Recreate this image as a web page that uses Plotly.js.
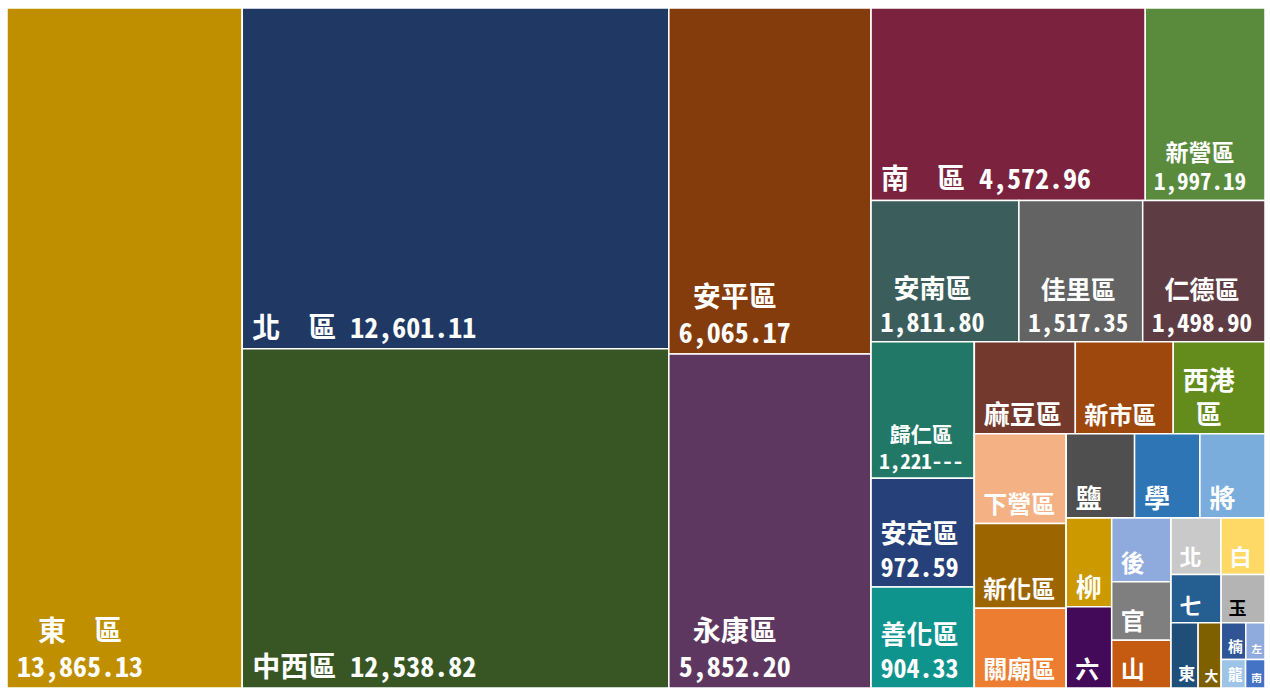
<!DOCTYPE html>
<html>
<head>
<meta charset="utf-8">
<script src="https://cdn.plot.ly/plotly-3.0.1.min.js"></script>
<style>html,body{margin:0;padding:0;background:#fff;}#chart{width:1270px;height:688px;}</style>
</head>
<body>
<div id="chart"></div>
<script>
// ---- data (臺南市各區人口密度, 人/平方公里) ----
const districts = ['東　區','北　區','中西區','安平區','永康區','南　區','新營區','安南區','佳里區','仁德區',
  '歸仁區','安定區','善化區','麻豆區','新市區','西港區','下營區','新化區','關廟區','鹽水區',
  '學甲區','將軍區','柳營區','六甲區','後壁區','官田區','山上區','北門區','白河區','七股區',
  '玉井區','東山區','大內區','楠西區','左鎮區','龍崎區','南化區'];
const density = [13865.13,12601.11,12538.82,6065.17,5852.20,4572.96,1997.19,1811.80,1517.35,1498.90,
  1221.50,972.59,904.33,803,779,730,715,675,635,500,
  478,476,350,320,328,300,246,244,215,210,
  184,153,131,78,61,60,48];
// label text as it appears in each tile
const shownName = ['東　區','北　區','中西區','安平區','永康區','南　區','新營區','安南區','佳里區','仁德區',
  '歸仁區','安定區','善化區','麻豆區','新市區','西港<br>區','下營區','新化區','關廟區','鹽',
  '學','將','柳','六','後','官','山','北','白','七',
  '玉','東','大','楠','左','龍','南'];
const inlineValue = ['北　區','中西區','南　區'];
const stackedValue = ['東　區','安平區','永康區','新營區','安南區','佳里區','仁德區','歸仁區','安定區','善化區'];
const clippedValue = {'歸仁區':'1,221---'};

// ---- style ----
const colors = ['#BF8F00','#203864','#375623','#843C0C','#5E3761','#7B223E','#5A8A3C','#3B5E5C','#636363','#5E3C44',
  '#217867','#26417A','#0F948D','#73392C','#9E480E','#638C1C','#F4B183','#9C6500','#ED7D31','#4F4F4F',
  '#2E75B6','#7AADDC','#CC9900','#440A5A','#8FAADC','#7F7F7F','#C55A11','#C9C9C9','#FFD966','#255E91',
  '#B4B4B4','#1F4E79','#7F6000','#2F5597','#8FAADC','#9DC3E6','#4472C4'];
const labelSize = {'東　區':28,'北　區':28,'中西區':28,'安平區':28,'永康區':28,'南　區':28,
  '新營區':23,'佳里區':25,'仁德區':25,'歸仁區':21,'新市區':24,'下營區':24,'新化區':24,'關廟區':24,
  '六甲區':24,'後壁區':24,'官田區':24,'山上區':24,'北門區':22,'白河區':22,'七股區':22,
  '玉井區':18,'東山區':20,'大內區':18,'楠西區':16,'左鎮區':16,'龍崎區':16,'南化區':16};
const defaultSize = 26;
// grouping of tiles (nested lists = blocks of the treemap)
const blocks = [
  '東　區',
  ['北　區','中西區'],
  ['安平區','永康區'],
  [['南　區','新營區'], ['安南區','佳里區','仁德區'],
    [['歸仁區','安定區','善化區'],
     [['麻豆區','新市區','西港區'],
      [['下營區','新化區','關廟區'],
       [['鹽水區','學甲區','將軍區'],
        [['柳營區','六甲區'], ['後壁區','官田區','山上區'],
         [['北門區','白河區'], ['七股區','玉井區'],
          ['東山區','大內區', [['楠西區','左鎮區'], ['龍崎區','南化區']]]]]]]]]]
];

// ---- helpers: centre the lines of a label on each other (half/full-width monospace) ----
const Q = '\u2005'; // quarter-em space
function emWidth(s){ let w=0; for (const c of s){ w += (c.charCodeAt(0) < 0x2E80) ? 0.5 : 1; } return w; }
function centreLines(t){
  const lines = t.split('<br>');
  const ws = lines.map(emWidth);
  const m = Math.max(...ws);
  return lines.map((l,k)=> Q + Q.repeat(Math.round((m - ws[k]) / 2 / 0.25)) + l).join('<br>');
}

// ---- build treemap arrays ----
const fmt = v => v.toLocaleString('en-US',{minimumFractionDigits:2, maximumFractionDigits:2});
const ids=[], labels=[], parents=[], values=[], texts=[], mcolors=[], tcolors=[], tsizes=[];
let gcount = 0;
function add(node, parentId){
  if (Array.isArray(node)){
    const id = 'grp' + (++gcount);
    ids.push(id); labels.push(id); parents.push(parentId); values.push(0);
    texts.push(''); mcolors.push('rgba(255,255,255,0)'); tcolors.push('#ffffff'); tsizes.push(defaultSize);
    node.forEach(ch => add(ch, id));
  } else {
    const i = districts.indexOf(node);
    ids.push(node); labels.push(node); parents.push(parentId); values.push(density[i]);
    let t = shownName[i];
    const vt = clippedValue[node] || fmt(density[i]);
    if (inlineValue.includes(node)) t = t + ' ' + vt;
    else if (stackedValue.includes(node)) t = t + '<br>' + vt;
    texts.push(centreLines(t));
    mcolors.push(colors[i]);
    tcolors.push(node === '玉井區' ? '#000000' : '#ffffff');
    tsizes.push(labelSize[node] || defaultSize);
  }
}
blocks.forEach(b => add(b, ''));

const trace = {
  type: 'treemap',
  ids: ids, labels: labels, parents: parents, values: values,
  branchvalues: 'remainder',
  sort: false,
  text: texts,
  textinfo: 'text',
  textposition: 'bottom left',
  textfont: {family: '"Noto Sans Mono CJK TC", "Liberation Serif", "Noto Sans CJK TC", serif', size: tsizes, color: tcolors, weight: 'bold'},
  marker: {colors: mcolors, line: {color: '#ffffff', width: 1.5}, pad: {t:0, l:0, r:0, b:0}},
  tiling: {packing: 'slice-dice', pad: 0},
  pathbar: {visible: false},
  hoverinfo: 'skip'
};
const layout = {
  width: 1270, height: 688,
  margin: {l: 7, r: 5, t: 8, b: 0},
  paper_bgcolor: '#ffffff',
  showlegend: false
};
Plotly.newPlot('chart', [trace], layout, {displayModeBar: false, staticPlot: true});
</script>
</body>
</html>
